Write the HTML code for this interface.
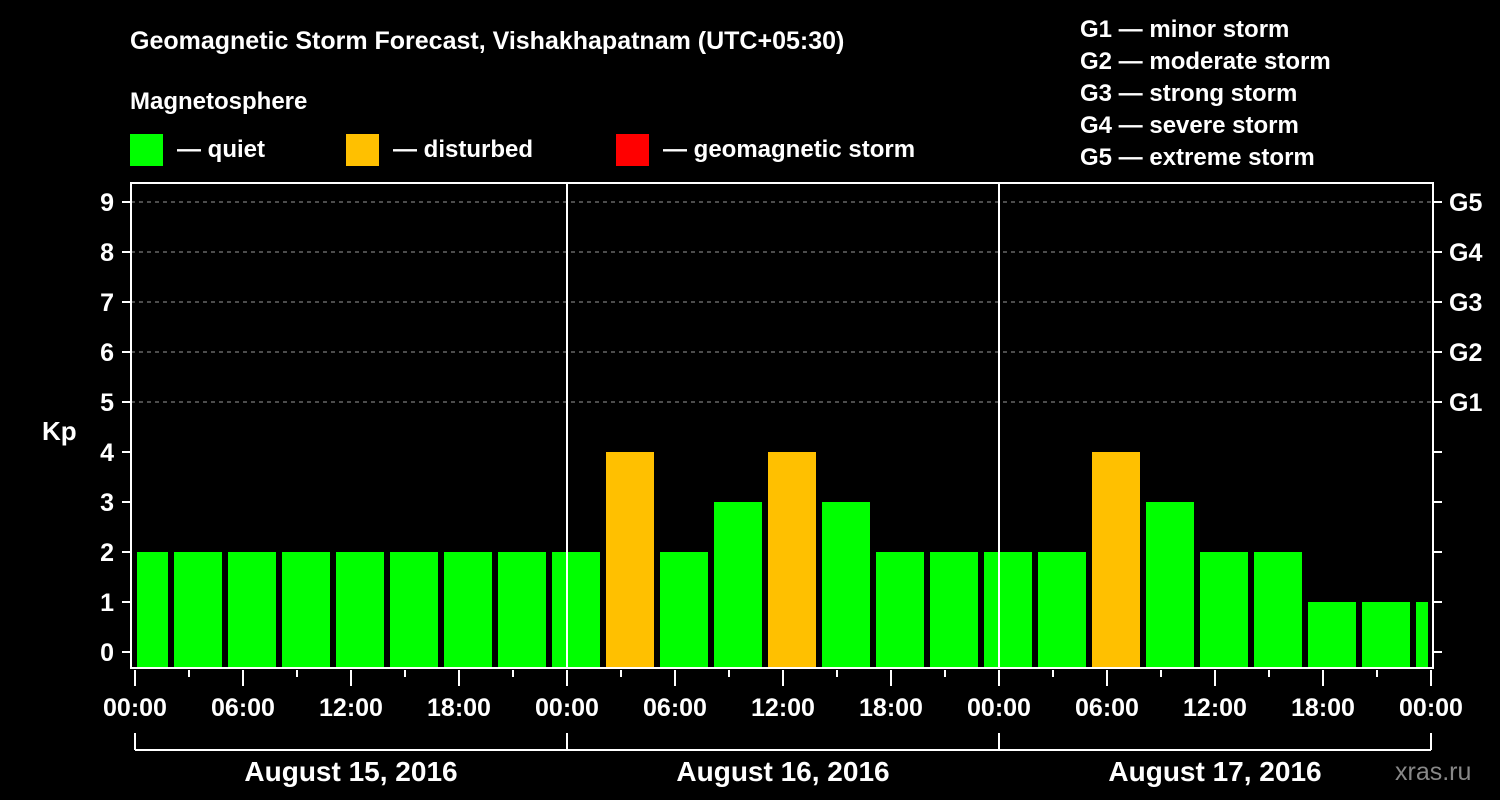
<!DOCTYPE html>
<html><head><meta charset="utf-8"><style>
html,body{margin:0;padding:0;background:#000;}
svg{display:block;font-family:"Liberation Sans",Arial,sans-serif;font-weight:bold;}
</style></head><body>
<svg id="c" width="1500" height="800" viewBox="0 0 1500 800">
<rect width="1500" height="800" fill="#000"/>
<text x="130" y="49" fill="#fff" font-size="25">Geomagnetic Storm Forecast, Vishakhapatnam (UTC+05:30)</text>
<text x="130" y="109" fill="#fff" font-size="24">Magnetosphere</text>
<g><rect x="130" y="134" width="33" height="32" fill="#00ff00"/><text x="177" y="157" fill="#fff" font-size="24">— quiet</text></g>
<g><rect x="346" y="134" width="33" height="32" fill="#ffc000"/><text x="393" y="157" fill="#fff" font-size="24">— disturbed</text></g>
<g><rect x="616" y="134" width="33" height="32" fill="#ff0000"/><text x="663" y="157" fill="#fff" font-size="24">— geomagnetic storm</text></g>
<g fill="#fff" font-size="24">
<text x="1080" y="37">G1 — minor storm</text>
<text x="1080" y="69">G2 — moderate storm</text>
<text x="1080" y="101">G3 — strong storm</text>
<text x="1080" y="133">G4 — severe storm</text>
<text x="1080" y="165">G5 — extreme storm</text>
</g>
<text x="42" y="440" fill="#fff" font-size="26">Kp</text>
<text x="1395" y="780" fill="#888" font-size="25" font-weight="normal">xras.ru</text>
<g id="plot"></g>
</svg>
<script>
const kpValues=[2,2,2,2,2,2,2,2,2,4,2,3,4,3,2,2,2,2,4,3,2,2,1,1,1];
const yTicks=[0,1,2,3,4,5,6,7,8,9];
const gLabels=["G1","G2","G3","G4","G5"];
const timeLabels=["00:00","06:00","12:00","18:00"];
const dayLabels=["August 15, 2016","August 16, 2016","August 17, 2016"];
const NS="http://www.w3.org/2000/svg";
const L=131,R=1433,T=183,B=668;
const x0=135,dayW=432;
const xH=h=>x0+h*dayW/24;
const yV=v=>652-50*v;
const g=document.getElementById('plot');
function mk(tag,attrs,parent){const e=document.createElementNS(NS,tag);for(const k in attrs)e.setAttribute(k,attrs[k]);(parent||g).appendChild(e);return e;}
function col(v){return v>=5?'#ff0000':(v>=4?'#ffc000':'#00ff00');}
// gridlines
[5,6,7,8,9].forEach(v=>{const l=mk('line',{x1:L,x2:R,y1:yV(v),y2:yV(v),stroke:'#999','stroke-dasharray':'4,4','stroke-width':1});

});
// bars
kpValues.forEach((v,i)=>{let xs=xH(i*3-1)+3,xe=xs+48;xs=Math.max(xs,L+6);xe=Math.min(xe,R-5);
const r=mk('rect',{x:xs,y:yV(v),width:xe-xs,height:B-yV(v),fill:col(v)});

});
// day separators
[1,2].forEach(d=>{const l=mk('line',{x1:xH(d*24),x2:xH(d*24),y1:T,y2:B,stroke:'#fff','stroke-width':2});

});
// frame
const f=mk('rect',{x:L,y:T,width:R-L,height:B-T,fill:'none',stroke:'#fff','stroke-width':2});


// y ticks
yTicks.forEach(v=>{const y=yV(v);
mk('line',{x1:122,x2:L,y1:y,y2:y,stroke:'#fff','stroke-width':2});
mk('line',{x1:R,x2:R+9,y1:y,y2:y,stroke:'#fff','stroke-width':2});
const t=mk('text',{x:114,y:y+9,fill:'#fff','font-size':25,'text-anchor':'end'});t.textContent=v;

});
gLabels.forEach((s,i)=>{const t=mk('text',{x:1449,y:yV(5+i)+9,fill:'#fff','font-size':25});t.textContent=s;

});
// x ticks
for(let h=0;h<=72;h+=3){const x=xH(h);const maj=h%6===0;
mk('line',{x1:x,x2:x,y1:B+2,y2:B+(maj?18:9),stroke:'#fff','stroke-width':2});
if(maj){const t=mk('text',{x:x,y:716,fill:'#fff','font-size':25,'text-anchor':'middle'});t.textContent=timeLabels[(h/6)%4];

}}
// day brackets
mk('line',{x1:xH(0),x2:xH(72),y1:750,y2:750,stroke:'#fff','stroke-width':2});
for(let d=0;d<=3;d++)mk('line',{x1:xH(d*24),x2:xH(d*24),y1:733,y2:750,stroke:'#fff','stroke-width':2});
dayLabels.forEach((s,d)=>{const t=mk('text',{x:xH(d*24+12),y:781,fill:'#fff','font-size':28,'text-anchor':'middle'});t.textContent=s;

});
</script>
</body></html>
